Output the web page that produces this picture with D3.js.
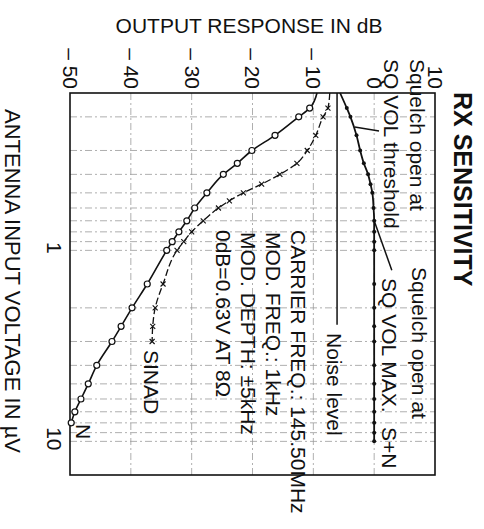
<!DOCTYPE html>
<html>
<head>
<meta charset="utf-8">
<script src="https://cdn.jsdelivr.net/npm/d3@7"></script>
<style>
body { margin: 0; background: #fff; }
text { font-family: "Liberation Sans", Arial, sans-serif; fill: #111; }
</style>
</head>
<body>
<svg width="484" height="529"></svg>
<script>
var svg = d3.select("svg"),
  width = +svg.attr("width"),
  height = +svg.attr("height");

// data (voltage in uV, response in dB)
var dbTicks = [-50, -40, -30, -20, -10, 0, 10];
var voltTicks = [1, 10];
var gridVolts = [0.2, 0.3, 0.4, 0.5, 0.6, 0.7, 0.8, 0.9, 1, 2, 3, 4, 5, 6, 7, 8, 9, 10];
var gridDb = [-40, -30, -20, -10, 0];

var nVolt = [0.15, 0.18, 0.2, 0.25, 0.3, 0.35, 0.4, 0.5, 0.6, 0.7, 0.8, 0.9, 1, 1.5, 2, 2.5, 3, 4, 5, 6, 7, 8];
var nDb = [-9.4, -10.6, -12.4, -16.3, -20.1, -22.5, -24.8, -27.5, -29.5, -30.8, -32.1, -33.2, -34.1, -37.3, -39.8, -41.6, -43.1, -45.6, -47.0, -48.2, -49.2, -49.8];

var sinadVolt = [0.15, 0.18, 0.2, 0.25, 0.3, 0.35, 0.4, 0.45, 0.5, 0.55, 0.6, 0.7, 0.8, 0.9, 1, 1.5, 2, 2.5, 3];
var sinadDb = [-7.3, -7.6, -8.4, -9.6, -11.0, -12.7, -15.5, -18.5, -21.5, -23.8, -25.6, -28.1, -30.0, -31.3, -32.4, -34.7, -36.0, -36.4, -36.5];

var snVolt = [0.15, 0.18, 0.2, 0.25, 0.3, 0.35, 0.4, 0.45, 0.5, 0.6, 0.7, 0.8, 0.9, 1, 1.5, 2, 2.5, 3, 4, 5, 6, 7, 8, 9, 10];
var snDb = [-5.6, -4.5, -3.9, -2.9, -2.3, -1.7, -1.0, -0.6, -0.3, -0.1, 0, 0, 0, 0, 0, 0, 0, 0, 0, 0, 0, 0, 0, 0, 0];

var noiseLevelDb = -6.1;
var noiseLevelVolt = [0.15, 2.45];

// leader lines: [volt, dB] pairs
var leaderThreshold = [[0.226, -3.2], [0.237, 0.8]];
var leaderMax = [[0.7, 0], [1.27, 2.9]];

// chart is drawn turned a quarter turn: dB runs left-right, voltage top-bottom
var plot = { left: 70, right: 435, top: 93, bottom: 475 };

var x = d3.scaleLinear().domain([-50, 10]).range([plot.left, plot.right]);
var y = d3.scaleLog().domain([0.15, 15]).range([plot.top, plot.bottom]);

function pts(vs, ds) {
  return vs.map(function (v, i) { return { v: v, db: ds[i] }; });
}

// grid
var grid = svg.append("g").attr("class", "grid")
  .attr("stroke", "#9a9a9a").attr("stroke-width", 0.8)
  .attr("stroke-dasharray", "7,3,2,3");
grid.selectAll("line.h").data(gridVolts).enter().append("line")
  .attr("x1", plot.left).attr("x2", plot.right)
  .attr("y1", function (d) { return y(d); })
  .attr("y2", function (d) { return y(d); });
grid.selectAll("line.v").data(gridDb).enter().append("line")
  .attr("y1", plot.top).attr("y2", plot.bottom)
  .attr("x1", function (d) { return x(d); })
  .attr("x2", function (d) { return x(d); });

// frame
svg.append("rect")
  .attr("x", plot.left).attr("y", plot.top)
  .attr("width", plot.right - plot.left).attr("height", plot.bottom - plot.top)
  .attr("fill", "none").attr("stroke", "#111").attr("stroke-width", 1.6);

// axes
var dbAxis = svg.append("g")
  .attr("transform", "translate(0," + plot.top + ")")
  .call(d3.axisTop(x).tickValues(dbTicks).tickSize(0)
    .tickFormat(function (d) { return d < 0 ? "\u2013 " + (-d) : d; }));
dbAxis.select(".domain").remove();
dbAxis.selectAll("text")
  .attr("x", 0).attr("y", 0).attr("dy", "0.36em")
  .attr("transform", "translate(0,-4) rotate(90)")
  .attr("text-anchor", "end")
  .style("font-size", "21px").style("font-family", "Liberation Sans, Arial, sans-serif")
  .attr("fill", "#111");

var vAxis = svg.append("g")
  .attr("transform", "translate(" + plot.left + ",0)")
  .call(d3.axisLeft(y).tickValues(voltTicks).tickSize(0).tickFormat(d3.format("d")));
vAxis.select(".domain").remove();
vAxis.selectAll("text")
  .attr("x", 0).attr("y", 0).attr("dy", "0.36em")
  .attr("transform", "translate(-15,-3) rotate(90)")
  .attr("text-anchor", "middle")
  .style("font-size", "21px").style("font-family", "Liberation Sans, Arial, sans-serif")
  .attr("fill", "#111");

var line = d3.line()
  .x(function (d) { return x(d.db); })
  .y(function (d) { return y(d.v); })
  .curve(d3.curveMonotoneY);

// noise level
svg.append("line")
  .attr("x1", x(noiseLevelDb)).attr("x2", x(noiseLevelDb))
  .attr("y1", y(noiseLevelVolt[0])).attr("y2", y(noiseLevelVolt[1]))
  .attr("stroke", "#111").attr("stroke-width", 1.5);

// S+N
var sn = pts(snVolt, snDb);
svg.append("path").datum(sn)
  .attr("d", line).attr("fill", "none")
  .attr("stroke", "#111").attr("stroke-width", 1.8);
svg.append("g").selectAll("circle").data(sn.slice(1)).enter().append("circle")
  .attr("cx", function (d) { return x(d.db); })
  .attr("cy", function (d) { return y(d.v); })
  .attr("r", 2).attr("fill", "#111");

// SINAD
var sinad = pts(sinadVolt, sinadDb);
svg.append("path").datum(sinad)
  .attr("d", line).attr("fill", "none")
  .attr("stroke", "#111").attr("stroke-width", 1.3)
  .attr("stroke-dasharray", "7,3");
svg.append("g").selectAll("path").data(sinad.slice(1)).enter().append("path")
  .attr("transform", function (d) { return "translate(" + x(d.db) + "," + y(d.v) + ")"; })
  .attr("d", "M-2.5,-2.5L2.5,2.5M-2.5,2.5L2.5,-2.5")
  .attr("stroke", "#111").attr("stroke-width", 1.1);

// N
var n = pts(nVolt, nDb);
svg.append("path").datum(n)
  .attr("d", line).attr("fill", "none")
  .attr("stroke", "#111").attr("stroke-width", 1.6);
svg.append("g").selectAll("circle").data(n.slice(1)).enter().append("circle")
  .attr("cx", function (d) { return x(d.db); })
  .attr("cy", function (d) { return y(d.v); })
  .attr("r", 3).attr("fill", "#fff")
  .attr("stroke", "#111").attr("stroke-width", 1.2);

// leaders
[leaderThreshold, leaderMax].forEach(function (l) {
  svg.append("line")
    .attr("x1", x(l[0][1])).attr("y1", y(l[0][0]))
    .attr("x2", x(l[1][1])).attr("y2", y(l[1][0]))
    .attr("stroke", "#111").attr("stroke-width", 1.5);
});

// rotated labels: [text, centre x, start y, size, weight]
var labels = [
  ["RX SENSITIVITY", 463, 92, 25, "bold"],
  ["Squelch open at", 418, 59, 21, "normal"],
  ["SQ VOL threshold", 392, 59, 21, "normal"],
  ["Squelch open at", 420, 267, 21, "normal"],
  ["SQ VOL MAX.", 390, 278, 21, "normal"],
  ["S+N", 390, 427, 21, "normal"],
  ["Noise level", 335, 333, 21, "normal"],
  ["CARRIER FREQ.: 145.50MHz", 299, 230, 21, "normal"],
  ["MOD. FREQ.: 1kHz", 274, 232, 21, "normal"],
  ["MOD. DEPTH: \u00b15kHz", 249, 232, 21, "normal"],
  ["0dB=0.63V AT 8\u03a9", 224, 230, 21, "normal"],
  ["SINAD", 152, 350, 21, "normal"],
  ["N", 84, 424, 21, "normal"]
];
svg.append("g").selectAll("text").data(labels).enter().append("text")
  .attr("transform", function (d) { return "translate(" + d[1] + "," + d[2] + ") rotate(90)"; })
  .attr("dy", "0.36em")
  .style("font-size", function (d) { return d[3] + "px"; })
  .style("font-weight", function (d) { return d[4]; })
  .text(function (d) { return d[0]; });

svg.append("text")
  .attr("x", 249).attr("y", 33)
  .attr("text-anchor", "middle")
  .style("font-size", "21px")
  .text("OUTPUT RESPONSE IN dB");

svg.append("text")
  .attr("transform", "translate(13,281) rotate(90)")
  .attr("text-anchor", "middle")
  .attr("dy", "0.36em")
  .style("font-size", "22px")
  .text("ANTENNA INPUT VOLTAGE IN \u00b5V");
</script>
</body>
</html>
